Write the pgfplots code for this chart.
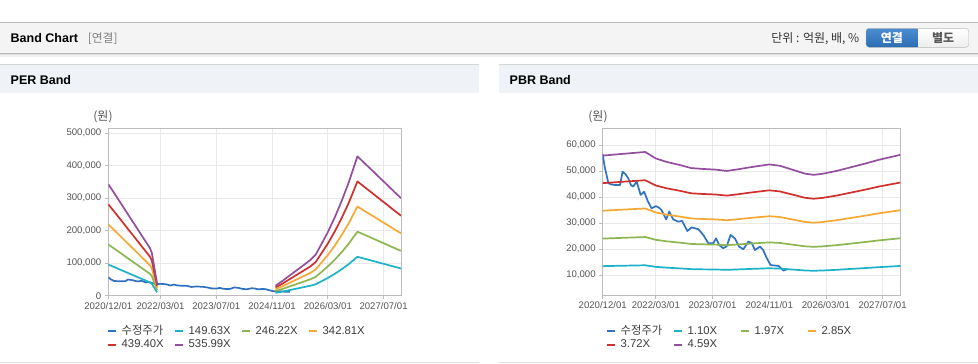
\documentclass[border=0pt]{standalone}
\usepackage{pgfplots}
\pgfplotsset{compat=1.18}
\usepackage{pgfplotstable}
\usepackage{fontspec}
\setmainfont{Liberation Sans}
\newfontfamily\kr{Noto Sans CJK KR}
\definecolor{cPrice}{RGB}{47,114,194}
\definecolor{cB1}{RGB}{28,178,200}
\definecolor{cB2}{RGB}{141,182,80}
\definecolor{cB3}{RGB}{245,168,52}
\definecolor{cB4}{RGB}{208,48,44}
\definecolor{cB5}{RGB}{148,78,158}
\definecolor{txt}{RGB}{85,85,85}
\definecolor{txtL}{RGB}{60,60,60}
\definecolor{gridc}{RGB}{233,233,233}
\definecolor{axc}{RGB}{188,188,188}
\definecolor{hdr}{RGB}{239,242,247}
\definecolor{topbar}{RGB}{244,244,244}
\definecolor{btnA}{RGB}{76,141,210}
\definecolor{btnB}{RGB}{44,108,178}

\pgfplotstableread{
m v
0 56500
0.5 52000
1.6 45300
2.5 44800
3.5 44600
4.9 44600
5.6 49700
6.4 48800
7.2 47200
8.0 44500
8.6 44000
9.6 45900
10.7 40800
11.7 42000
12.7 38500
13.8 35600
15.0 36500
16.0 35800
16.6 35000
17.9 31400
18.8 34400
19.9 31400
21.3 30500
22.4 30800
23.9 26900
25.1 28300
27.0 27600
28.4 25400
29.8 22200
31.2 22200
32.0 24100
32.9 21500
34.0 20300
35.0 21000
36.1 25400
37.3 24100
38.5 20900
39.7 19900
41.1 22800
42.0 22400
43.0 19600
44.4 20900
45.3 19600
46.3 16500
47.4 13800
49.6 13500
51.0 11700
52.1 12200
}\price

\pgfplotstableread{
m b1 b2 b3 b4 b5
0 95763 157581 219398 281216 343034
2 86785 142808 198830 254852 310874
4 77508 127542 177576 227609 277643
6 68231 112276 156321 200366 244411
8 59104 97257 135410 173563 211716
10 49827 81991 114156 146320 178485
12 40699 66972 93244 119517 145789
12.5 36659 60324 83988 107653 131318
14 10474 17235 23997 30758 37519
30 nan nan nan nan nan
48 8679 14281 19883 25485 31087
50 12719 20929 29139 37349 45559
52 17207 28315 39423 50531 61639
54 21696 35702 49707 63713 77719
56 26185 43089 59992 76895 93798
58 30674 50475 70276 90077 109878
59.5 35163 57862 80560 103259 125958
61 43393 71404 99415 127426 155437
63 54615 89870 125126 160381 195636
65 67334 110799 154265 197730 241196
67 81548 134190 186831 239473 292115
69 97260 160043 222827 285610 348394
71.5 119704 196976 274248 351520 428792
74 112522 185157 257793 330429 403064
76 106836 175801 244766 313732 382697
78 101000 166199 231397 296595 361793
80 95314 156842 218370 279898 341426
82 89479 147240 205000 262761 320522
84 83793 137883 191974 246064 300154
}\perband

\pgfplotstableread{
m b1 b2 b3 b4 b5
0 13400 23990 34710 45310 55900
5 13540 24250 35080 45790 56500
12 13730 24590 35580 46440 57300
15 13130 23520 34030 44410 54800
18 12820 22960 33220 43360 53500
22 12510 22400 32410 42310 52200
25 12250 21930 31730 41410 51100
28 12170 21800 31540 41170 50800
32 12100 21670 31360 40930 50500
35 11980 21460 31050 40520 50000
38 12130 21720 31420 41010 50600
42 12340 22100 31980 41740 51500
47 12580 22530 32600 42550 52500
50 12460 22320 32290 42140 52000
54 12050 21590 31230 40770 50300
57 11740 21030 30420 39710 49000
59.5 11620 20820 30110 39310 48500
62 11720 20990 30360 39630 48900
66 11980 21460 31050 40520 50000
70 12320 22060 31910 41660 51400
74 12650 22660 32780 42790 52800
78 13010 23310 33720 44010 54300
84 13470 24120 34900 45550 56200
}\pbrband

\pgfplotsset{
  bandaxis/.style={
    scale only axis, anchor=south west,
    xmin=0, xmax=84,
    xtick={0,15,31,47,63,79},
    xticklabels={2020/12/01,2022/03/01,2023/07/01,2024/11/01,2026/03/01,2027/07/01},
    axis line style={draw=axc, line width=0.8pt},
    grid=major, major grid style={draw=gridc, line width=0.8pt},
    tick align=outside, tick pos=left,
    major tick length=3.5pt,
    tick style={draw=axc, line width=0.8pt},
    ticklabel style={font=\fontsize{9.6}{11}\selectfont, text=txt},
    /pgf/number format/.cd, fixed, 1000 sep={,}, assume math mode=true, /pgfplots/.cd,
    scaled y ticks=false,
    unbounded coords=jump,
    no markers,
    every axis plot/.append style={line width=1.7pt, line join=round},
    legend columns=4,
    legend cell align=left,
    legend style={draw=none, fill=none, inner sep=0pt, outer sep=0pt,
      anchor=north west, row sep=2.8pt,
      cells={anchor=west},
      nodes={inner sep=0pt, text height=8pt, text depth=2.5pt,
        font=\fontsize{11.3}{12}\selectfont, text=txtL}},
    legend image code/.code={\draw[##1, line width=2pt] (0pt,0pt) -- (8pt,0pt);},
  }
}
\newcommand{\lgent}[1]{\makebox[57pt][l]{\hspace{5pt}#1}}

\begin{document}
\begin{tikzpicture}
\useasboundingbox (0pt,0pt) rectangle (978pt,-364pt);
\fill[white] (0pt,0pt) rectangle (978pt,-364pt);
% top bar
\fill[topbar] (0pt,-22.7pt) rectangle (978pt,-53pt);
\draw[black!27, line width=1pt] (0pt,-22.7pt) -- (978pt,-22.7pt);
\fill[black!28] (0pt,-53pt) rectangle (978pt,-54pt);
\fill[black!12] (0pt,-54pt) rectangle (978pt,-55pt);
\fill[black!5] (0pt,-55pt) rectangle (978pt,-56.5pt);
\node[anchor=west, inner sep=0pt, font=\bfseries\fontsize{12.5}{14}\selectfont] at (10.5pt,-38.3pt) {Band Chart};
\node[anchor=west, inner sep=0pt, text=black!50, font=\kr\fontsize{11.8}{13}\selectfont] at (87.7pt,-38.3pt) {[연결]};
\node[anchor=east, inner sep=0pt, text=black!80, font=\kr\fontsize{12}{13}\selectfont] at (859.5pt,-38.3pt) {단위 : 억원, 배, \%};
\begin{scope}
\clip[rounded corners=3pt] (866pt,-28.3pt) rectangle (968.7pt,-47.3pt);
\shade[top color=white, bottom color=black!7] (866pt,-28.3pt) rectangle (968.7pt,-47.3pt);
\shade[top color=btnA, bottom color=btnB] (866pt,-28.3pt) rectangle (917.7pt,-47.3pt);
\end{scope}
\draw[black!28, rounded corners=3pt] (866pt,-28.3pt) rectangle (968.7pt,-47.3pt);
\node[inner sep=0pt, text=white, font=\kr\bfseries\fontsize{12}{13}\selectfont] at (891.8pt,-38pt) {연결};
\node[inner sep=0pt, text=black!65, font=\kr\bfseries\fontsize{12}{13}\selectfont] at (943.2pt,-38pt) {별도};
% panel headers
\fill[hdr] (0pt,-64.5pt) rectangle (479pt,-92.7pt);
\draw[black!16] (0pt,-64.5pt) -- (479pt,-64.5pt);
\fill[hdr] (499pt,-64.5pt) rectangle (978pt,-92.7pt);
\draw[black!16] (499pt,-64.5pt) -- (978pt,-64.5pt);
\node[anchor=west, inner sep=0pt, font=\bfseries\fontsize{12.5}{14}\selectfont] at (10.5pt,-80pt) {PER Band};
\node[anchor=west, inner sep=0pt, font=\bfseries\fontsize{12.5}{14}\selectfont] at (509.5pt,-80pt) {PBR Band};
% bottom lines
\draw[black!13] (0pt,-361.7pt) -- (479pt,-361.7pt);
\draw[black!13] (499pt,-361.7pt) -- (978pt,-361.7pt);
% unit labels
\node[inner sep=0pt, text=txt, font=\kr\fontsize{12}{13}\selectfont] at (103pt,-117pt) {(원)};
\node[inner sep=0pt, text=txt, font=\kr\fontsize{12}{13}\selectfont] at (598pt,-117pt) {(원)};

\begin{axis}[bandaxis,
  at={(108.3pt,-295.7pt)}, width=292.7pt, height=167.7pt,
  ymin=0, ymax=516000, ytick={0,100000,200000,300000,400000,500000},
  legend style={at={(-0.0055,-0.1807)}}]
\addplot[cPrice] table[x=m,y=v]{\price};
\addlegendentry{\lgent{\kr 수정주가}}
\addplot[cB1] table[x=m,y=b1]{\perband};
\addlegendentry{\lgent{149.63X}}
\addplot[cB2] table[x=m,y=b2]{\perband};
\addlegendentry{\lgent{246.22X}}
\addplot[cB3] table[x=m,y=b3]{\perband};
\addlegendentry{\lgent{342.81X}}
\addplot[cB4] table[x=m,y=b4]{\perband};
\addlegendentry{\lgent{439.40X}}
\addplot[cB5] table[x=m,y=b5]{\perband};
\addlegendentry{\lgent{535.99X}}
\end{axis}

\begin{axis}[bandaxis,
  at={(602.7pt,-295pt)}, width=297.6pt, height=166.7pt,
  ymin=2300, ymax=66400, ytick={10000,20000,30000,40000,50000,60000},
  legend style={at={(0.0101,-0.186)}}]
\addplot[cPrice] table[x=m,y=v]{\price};
\addlegendentry{\lgent{\kr 수정주가}}
\addplot[cB1] table[x=m,y=b1]{\pbrband};
\addlegendentry{\lgent{1.10X}}
\addplot[cB2] table[x=m,y=b2]{\pbrband};
\addlegendentry{\lgent{1.97X}}
\addplot[cB3] table[x=m,y=b3]{\pbrband};
\addlegendentry{\lgent{2.85X}}
\addplot[cB4] table[x=m,y=b4]{\pbrband};
\addlegendentry{\lgent{3.72X}}
\addplot[cB5] table[x=m,y=b5]{\pbrband};
\addlegendentry{\lgent{4.59X}}
\end{axis}
\end{tikzpicture}
\end{document}
